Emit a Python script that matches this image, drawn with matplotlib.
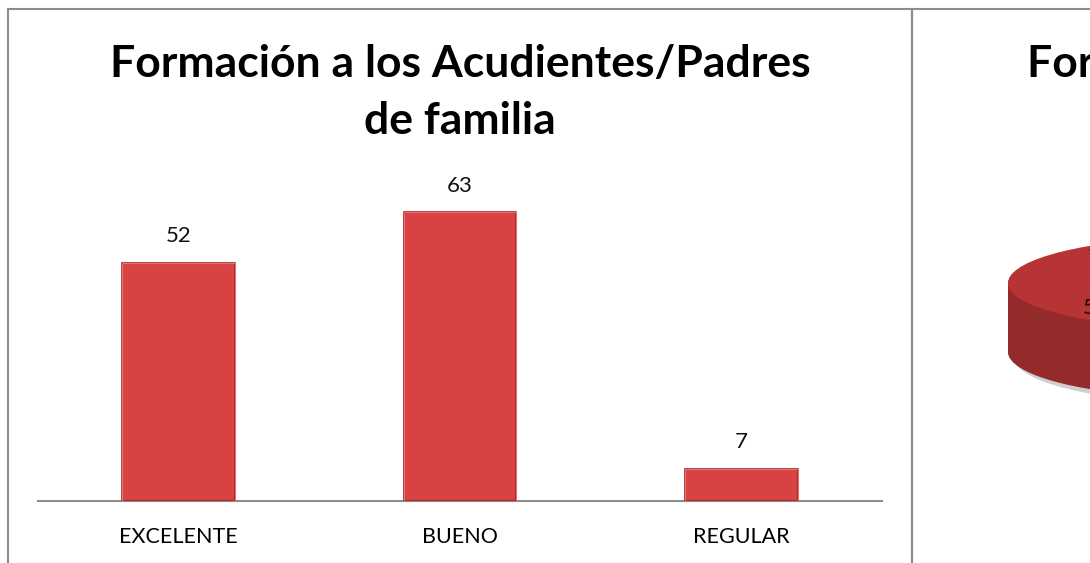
import numpy as np
import matplotlib
matplotlib.use("Agg")
import matplotlib.pyplot as plt
from matplotlib.patches import Rectangle

plt.rcParams['font.family'] = ['Lato', 'DejaVu Sans']

# data
categories = ["EXCELENTE", "BUENO", "REGULAR"]
values = [52, 63, 7]
title_line1 = "Formación a los Acudientes/Padres"
title_line2 = "de familia"

W, H = 1090, 563
fig = plt.figure(figsize=(W / 100, H / 100), dpi=100)

def fx(px):
    return px / W

def fy(py):
    # py measured from top of image
    return 1 - py / H

# panel borders (extend past the bottom / right edge, as in the screenshot)
fig.patches.append(Rectangle((fx(8), fy(600)), fx(904), fy(9) - fy(600),
                             transform=fig.transFigure, fill=False,
                             edgecolor="#8c8c8c", lw=1.5, zorder=0))
fig.patches.append(Rectangle((fx(912), fy(600)), fx(400), fy(9) - fy(600),
                             transform=fig.transFigure, fill=False,
                             edgecolor="#8c8c8c", lw=1.5, zorder=0))

# bar chart axes: x 38..882 px, baseline at 501 px, 4.58 px per unit
ymax = 70
ax_h = ymax * 4.58
ax = fig.add_axes([fx(38), fy(501), fx(882 - 38), ax_h / H])
x = np.arange(len(categories))
bars = ax.bar(x, values, width=0.4, color="#d94242", edgecolor="#9e2222",
              linewidth=1.2, zorder=3)
# light inner rim to hint at the bevel
ax.bar(x, values, width=0.4, fill=False, edgecolor="#e87070",
       linewidth=0.8, zorder=4)
for b, v in zip(bars, values):
    ax.annotate(str(v), (b.get_x() + b.get_width() / 2, v),
                xytext=(0, 12), textcoords="offset points",
                ha="center", va="bottom", fontsize=16, color="#111111")
ax.set_xlim(-0.5, len(categories) - 0.5)
ax.set_ylim(0, ymax)
ax.set_xticks(x)
ax.set_xticklabels(categories, fontsize=15.5)
ax.tick_params(axis="x", length=0, pad=19)
ax.set_yticks([])
for s in ["top", "left", "right"]:
    ax.spines[s].set_visible(False)
ax.spines["bottom"].set_color("#8c8c8c")
ax.spines["bottom"].set_linewidth(1.5)
ax.patch.set_alpha(0)

# titles
fig.text(fx(460), fy(77), title_line1, ha="center", va="baseline",
         fontsize=32, fontweight="bold")
fig.text(fx(460), fy(134), title_line2, ha="center", va="baseline",
         fontsize=32, fontweight="bold")
fig.text(fx(1027), fy(77), title_line1 + " " + title_line2, ha="left",
         va="baseline", fontsize=32, fontweight="bold")

# partially visible 3D pie on the right panel
pax = fig.add_axes([fx(998), 142 / H, 420 / W, 207 / H])
thick = 1.5
start = 147
pax.pie(values, radius=1, center=(0.03, -thick - 0.12), startangle=start,
        colors=["#cfcfcf"] * 3, wedgeprops=dict(linewidth=0))
for t in np.linspace(thick, 0.02, 45):
    pax.pie(values, radius=1, center=(0, -t), startangle=start,
            colors=["#952a2a"] * 3, wedgeprops=dict(linewidth=0))
_, texts = pax.pie(values, radius=1, center=(0, 0), startangle=start,
                   colors=["#b83434"] * 3, labels=[str(v) for v in values],
                   labeldistance=0.78,
                   textprops=dict(fontsize=16, color="#111111"),
                   wedgeprops=dict(linewidth=0))
for t in texts:
    t.set_ha("center")
    t.set_va("center")
pax.set_xlim(-1.05, 1.05)
pax.set_ylim(-3, 1.5)
pax.set_aspect("auto")
pax.axis("off")

fig.savefig("out.png", dpi=100)
